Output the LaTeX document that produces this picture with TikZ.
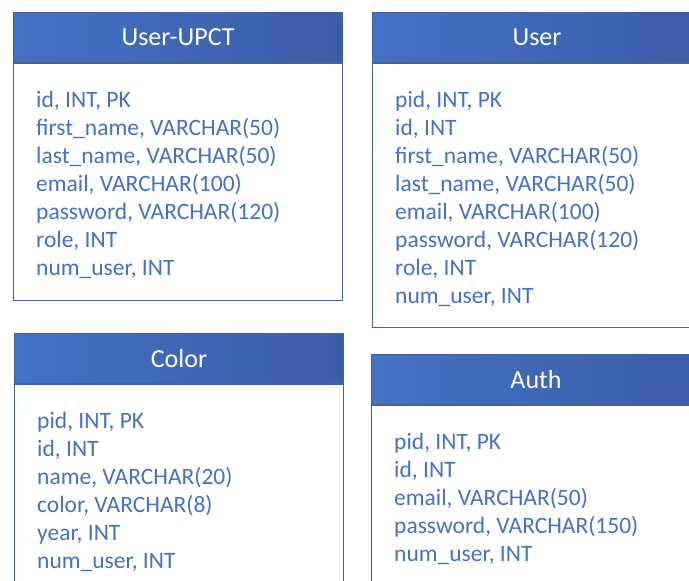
\documentclass[tikz,border=0pt]{standalone}
\usepackage{fontspec}
\setmainfont{Carlito}
\definecolor{tablehead}{RGB}{68,114,196}
\definecolor{tableheaddark}{RGB}{58,92,168}
\definecolor{tableline}{RGB}{66,98,160}
\definecolor{fieldblue}{RGB}{68,114,196}

\begin{document}
\begin{tikzpicture}[x=1pt, y=-1pt,
    head/.style={draw=tableline, line width=1pt, left color=tablehead, right color=tableheaddark,
        text=white, minimum width=329pt, minimum height=50pt, anchor=north west, inner sep=0pt,
        font=\fontsize{26}{30}\selectfont},
    body/.style={draw=tableline, line width=1pt, fill=white, minimum width=329pt,
        anchor=north west, inner sep=0pt},
    fields/.style={anchor=base west, align=left, inner sep=0pt, text=fieldblue,
        font=\fontsize{23.5}{28}\selectfont}]
    \useasboundingbox (0,0) rectangle (689,581);
    \clip (0,0) rectangle (689,581);

    % User-UPCT (anchor = baseline of last row)
    \node[head] (upct) at (13,12) {User-UPCT};
    \node[body, minimum height=237pt] (upctbody) at (upct.south west) {};
    \node[fields] (upctfields) at (36,275) {id, INT, PK\\first\_name, VARCHAR(50)\\last\_name, VARCHAR(50)\\email, VARCHAR(100)\\password, VARCHAR(120)\\role, INT\\num\_user, INT};

    % User
    \node[head] (user) at (372,12) {User};
    \node[body, minimum height=264pt] (userbody) at (user.south west) {};
    \node[fields] (userfields) at (395,303) {pid, INT, PK\\id, INT\\first\_name, VARCHAR(50)\\last\_name, VARCHAR(50)\\email, VARCHAR(100)\\password, VARCHAR(120)\\role, INT\\num\_user, INT};

    % Color
    \node[head] (color) at (14,333) {Color};
    \node[body, minimum height=230pt] (colorbody) at (color.south west) {};
    \node[fields] (colorfields) at (37,568) {pid, INT, PK\\id, INT\\name, VARCHAR(20)\\color, VARCHAR(8)\\year, INT\\num\_user, INT};

    % Auth
    \node[head] (auth) at (371,354) {Auth};
    \node[body, minimum height=210pt] (authbody) at (auth.south west) {};
    \node[fields] (authfields) at (394,561) {pid, INT, PK\\id, INT\\email, VARCHAR(50)\\password, VARCHAR(150)\\num\_user, INT};
\end{tikzpicture}
\end{document}
